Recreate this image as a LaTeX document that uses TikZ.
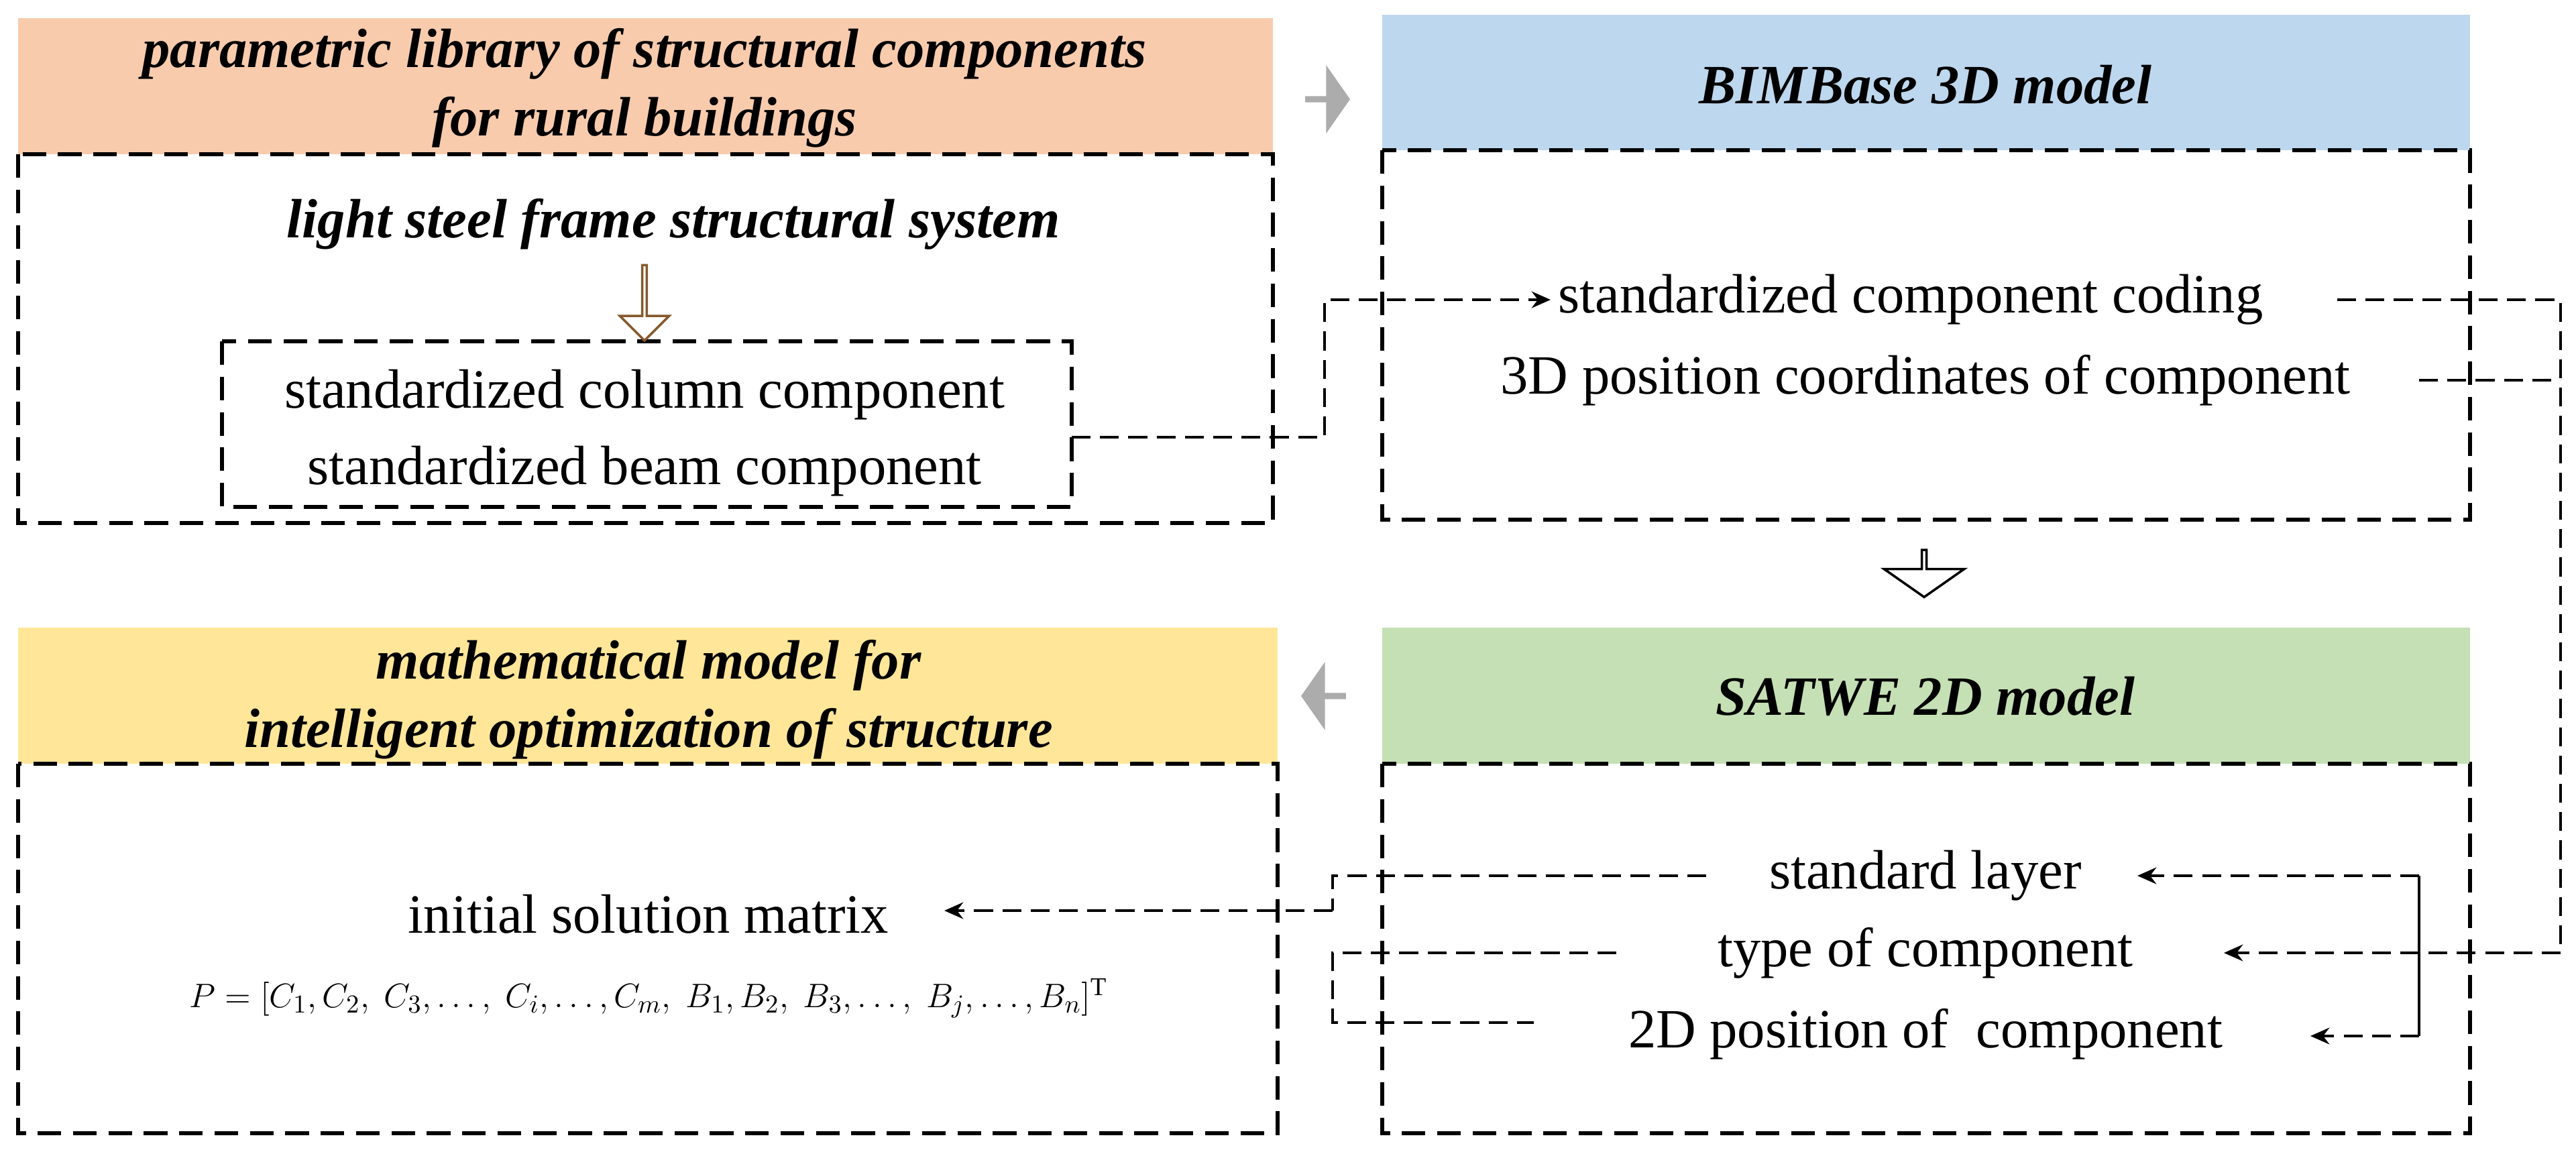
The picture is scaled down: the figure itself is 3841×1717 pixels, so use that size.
\documentclass[tikz,border=0pt]{standalone}
\usepackage{fontspec}
\setmainfont{Liberation Serif}
\usetikzlibrary{arrows.meta,shapes.arrows}
\begin{document}
\begin{tikzpicture}[x=0.01cm,y=-0.01cm,
  dsh/.style={line width=1.8pt,dash pattern=on 10pt off 5pt},
  ttl/.style={font=\fontsize{23.5}{29}\selectfont\bfseries\itshape,align=center},
  txt/.style={font=\fontsize{23.5}{28}\selectfont},
  con/.style={line width=1.3pt,dash pattern=on 8pt off 4pt},
  tip/.style={-{Stealth[length=8pt,width=7pt]}},
  garr/.style={single arrow,fill=gray!65!white,draw=none,minimum height=19pt,minimum width=29pt,single arrow head extend=2pt,single arrow tip angle=110,inner sep=0pt}]
\useasboundingbox (0,0) rectangle (3841,1717);
\definecolor{orh}{HTML}{F8CBAD}\definecolor{blh}{HTML}{BDD7EE}
\definecolor{yeh}{HTML}{FFE699}\definecolor{grh}{HTML}{C5E0B4}
% headers
\fill[orh] (27,27) rectangle (1898,230);
\fill[blh] (2061,22) rectangle (3683,224);
\fill[yeh] (27,936) rectangle (1905,1139);
\fill[grh] (2061,936) rectangle (3683,1139);
% boxes
\draw[dsh] (27,230) rectangle (1898,780);
\draw[dsh] (2061,224) rectangle (3683,775);
\draw[dsh] (27,1139) rectangle (1905,1690);
\draw[dsh] (2061,1139) rectangle (3683,1690);
\draw[dsh] (331,509) rectangle (1598,756);
\node[ttl] (h1) at (961,131) {parametric library of structural components\\for rural buildings};
\node[ttl] (h2) at (2871,126) {BIMBase 3D model};
\node[ttl] (h3) at (967,1043) {mathematical model for\\intelligent optimization of structure};
\node[ttl] (h4) at (2871,1038) {SATWE 2D model};
\node[ttl] (ls) at (1004,334) {light steel frame structural system};
\node[txt] (col) at (961,589) {standardized column component};
\node[txt] (beam) at (961,703) {standardized beam component};
\node[txt,anchor=west,inner sep=3pt] (code) at (2312,447) {standardized component coding};
\node[txt] (pos3) at (2871,567) {3D position coordinates of component};
\node[txt] (sl) at (2871,1306) {standard layer};
\node[txt] (tc) at (2871,1421) {type of component};
\node[txt] (p2) at (2871,1542) {2D position of\ \ component};
\node[txt] (ism) at (967,1363) {initial solution matrix};
\node[font=\fontsize{15.5}{18}\selectfont] (P) at (967,1489) {$P=[C_1,C_2,\ C_3,\ldots,\ C_i,\ldots,C_m,\ B_1,B_2,\ B_3,\ldots,\ B_j,\ldots,B_n]^{\mathrm{T}}$};
% block arrows
\node[single arrow,draw=brown!70!black,fill=white,line width=1pt,rotate=-90,minimum height=32pt,minimum width=21pt,single arrow head extend=5pt,inner sep=0pt] (a1) at (961,450) {};
\node[single arrow,draw=black,fill=white,line width=1pt,rotate=-90,minimum height=20pt,minimum width=34pt,single arrow head extend=8pt,single arrow tip angle=110,inner sep=0pt] (a2) at (2869,854) {};
\node[garr] (g1) at (1978,148) {};
\node[garr,shape border rotate=180] (g2) at (1975,1038) {};
% connectors
\coordinate (c1) at (1975,652); \coordinate (c2) at (1975,447);
\draw[con,tip] (1598,652) -- (c1) -- (c2) -- (code.west);
\coordinate (r1) at (3818,447); \coordinate (r2) at (3818,1421);
\draw[con] (3485,447) -- (r1) -- (r2);
\draw[con] (3607,567) -- (3818,567);
\draw[con,tip] (r2) -- (3316,1421);
\coordinate (b1) at (3607,1306); \coordinate (b2) at (3607,1545);
\draw[line width=1.3pt] (b1) -- (b2);
\draw[con,tip] (b1) -- (3187,1306);
\draw[con,tip] (b2) -- (3445,1545);
\coordinate (l1) at (1987,1306); \coordinate (l2) at (1987,1358);
\draw[con] (2544,1306) -- (l1) -- (l2);
\draw[con,tip] (l2) -- (1408,1358);
\draw[con] (2410,1421) -- (1987,1421) -- (1987,1525) -- (2287,1525);
\end{tikzpicture}
\end{document}
